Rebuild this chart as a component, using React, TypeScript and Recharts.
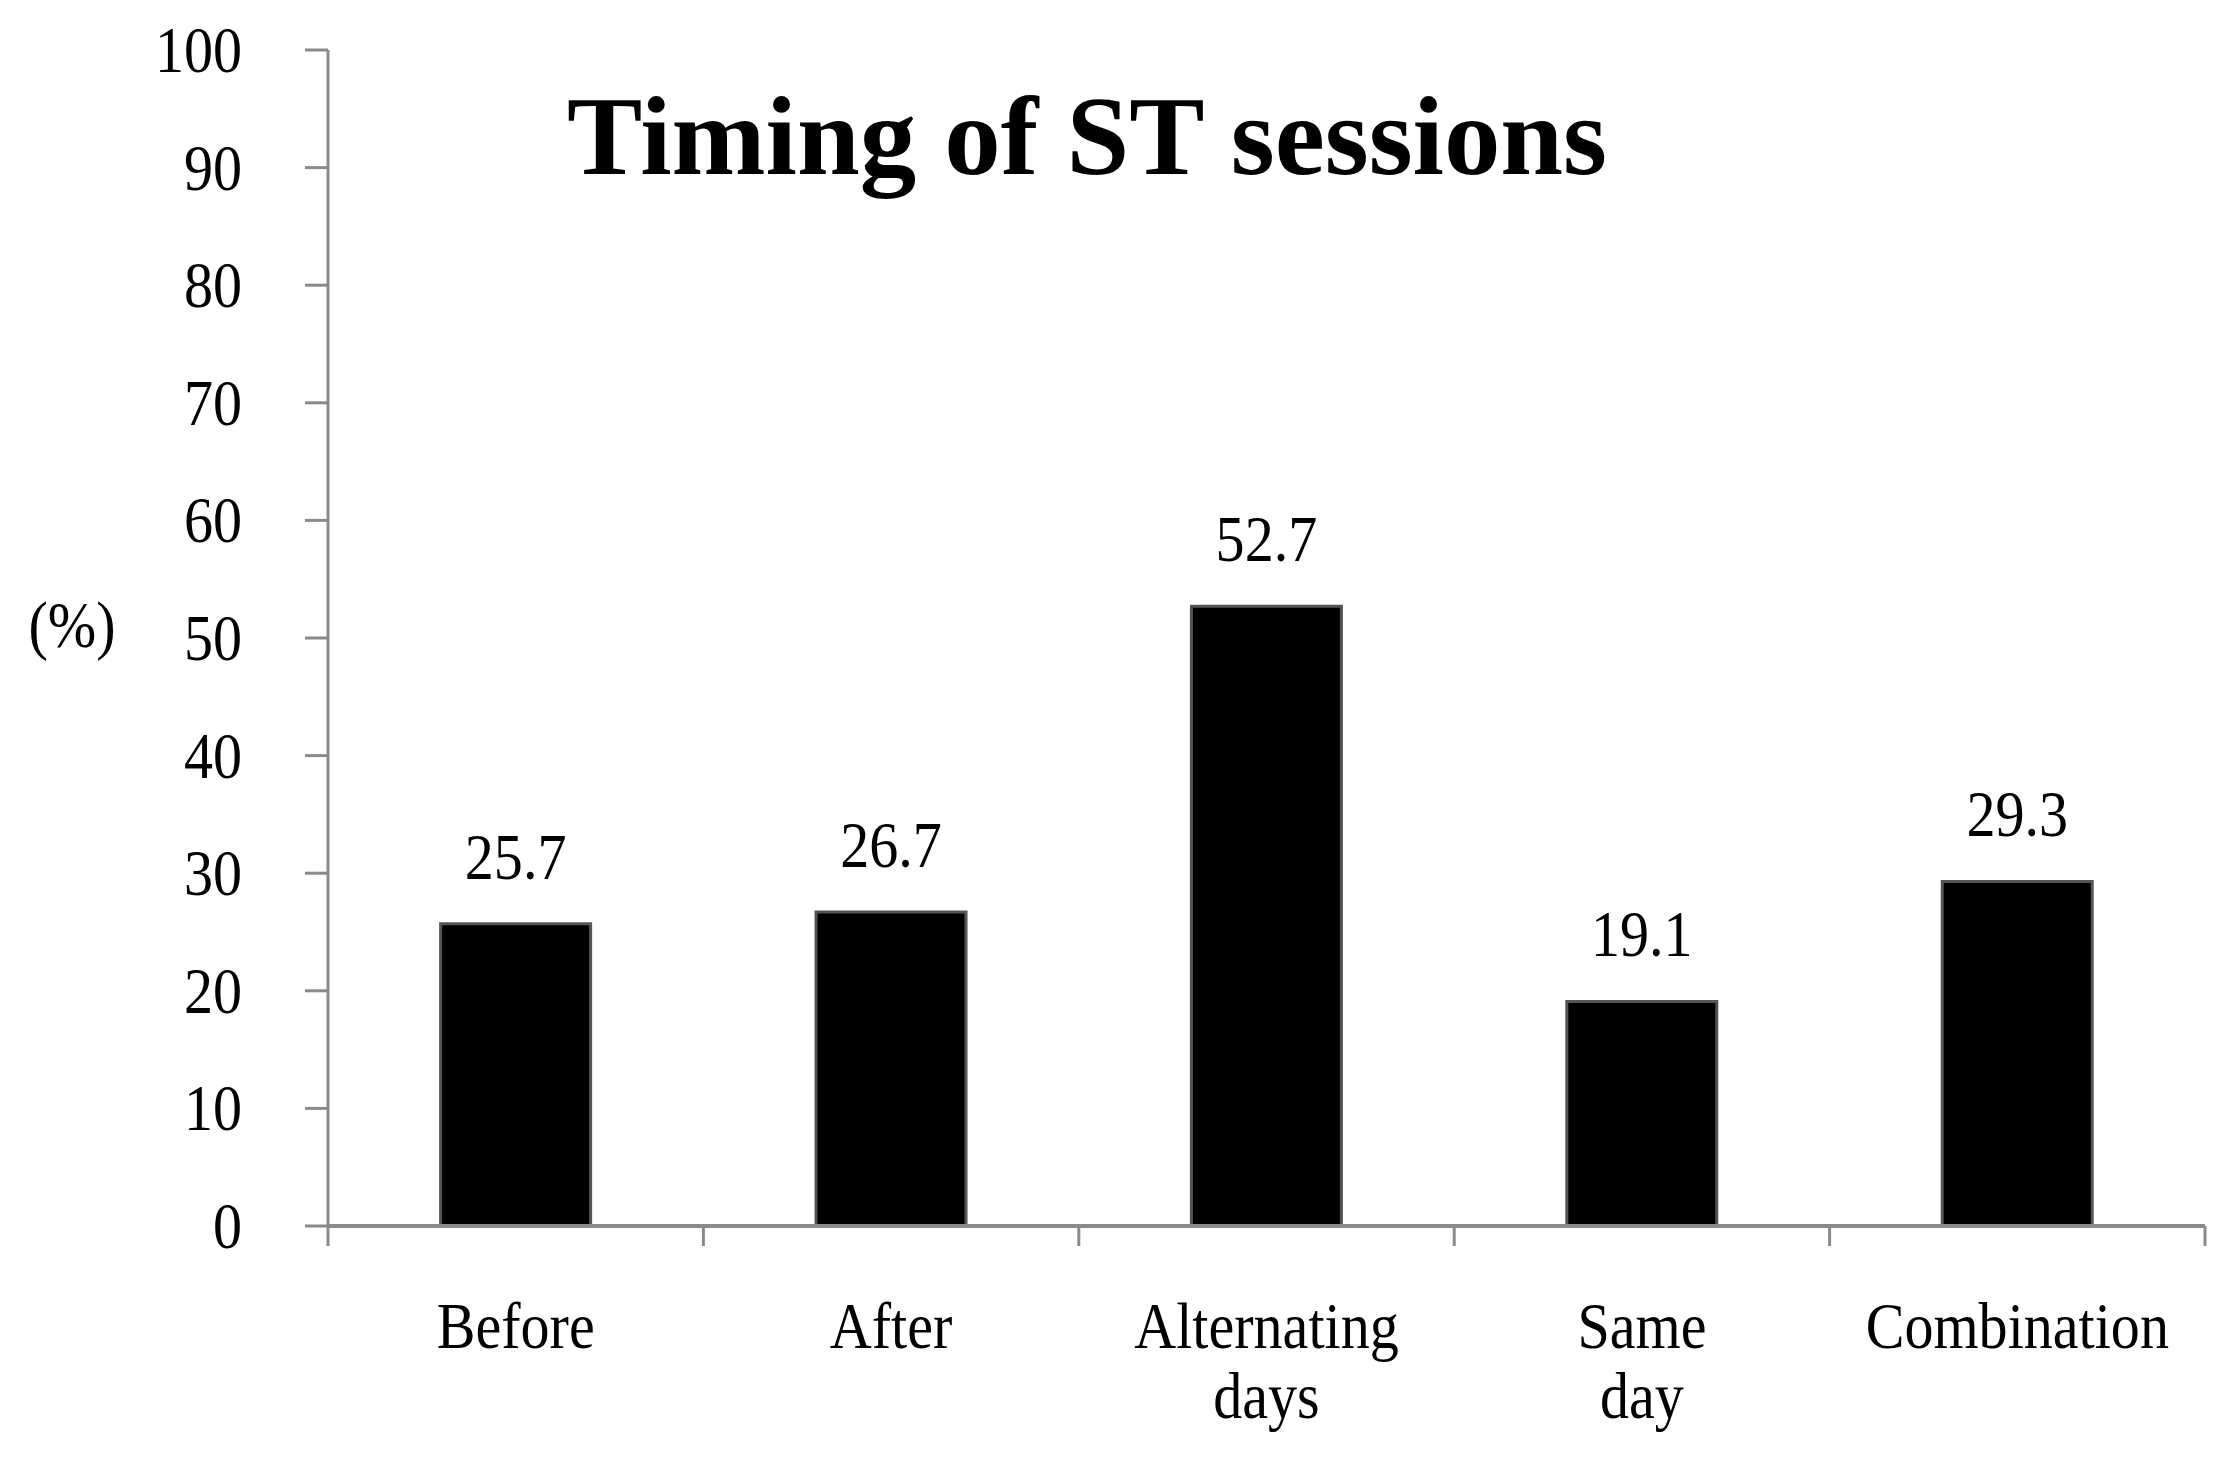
import React from 'react';
import { BarChart, Bar, XAxis, YAxis, LabelList } from 'recharts';

const categories = ['Before', 'After', 'Alternating days', 'Same day', 'Combination'];
const tickLabelLines = [['Before'], ['After'], ['Alternating', 'days'], ['Same', 'day'], ['Combination']];
const values = [25.7, 26.7, 52.7, 19.1, 29.3];
const valueLabels = ['25.7', '26.7', '52.7', '19.1', '29.3'];
const yTicks = [0, 10, 20, 30, 40, 50, 60, 70, 80, 90, 100];
const edgeTicks = [0, 1, 2, 3, 4, 5];
const title = 'Timing of ST sessions';
const yLabel = '(%)';

const data = categories.map((c, i) => ({ category: c, idx: i, value: values[i], label: valueLabels[i] }));

const W = 2218;
const H = 1444;
const AXIS = '#8a8a8a';
const FONT = '"Liberation Serif", "Times New Roman", serif';
const SX = 0.88;

const EmptyTick = () => <g />;

const YTick = (props: any) => {
  const { x, y, payload } = props;
  return (
    <text
      transform={`translate(${x},${y + 22}) scale(${SX},1)`}
      textAnchor="end"
      fontFamily={FONT}
      fontSize={66}
      fill="#000"
    >
      {payload.value}
    </text>
  );
};

const XTick = (props: any) => {
  const { x, y, index } = props;
  const lines = tickLabelLines[index] || [];
  return (
    <g>
      {lines.map((ln: string, i: number) => (
        <text
          key={i}
          transform={`translate(${x},${y + 121 + i * 70}) scale(${SX},1)`}
          textAnchor="middle"
          fontFamily={FONT}
          fontSize={66}
          fill="#000"
        >
          {ln}
        </text>
      ))}
    </g>
  );
};

const ValueLabel = (props: any) => {
  const { x, y, width, value } = props;
  return (
    <text
      transform={`translate(${x + width / 2},${y - 45}) scale(${SX},1)`}
      textAnchor="middle"
      fontFamily={FONT}
      fontSize={66}
      fill="#000"
    >
      {value}
    </text>
  );
};

export default function App() {
  return (
    <div style={{ position: 'relative', width: W, height: H, background: '#fff' }}>
      <BarChart
        width={W}
        height={H}
        data={data}
        margin={{ top: 42, right: 21, bottom: 0, left: 0 }}
        barCategoryGap="30%"
      >
        <XAxis
          xAxisId="axisA"
          type="number"
          dataKey="idx"
          domain={[0, 5]}
          ticks={edgeTicks}
          interval={0}
          allowDataOverflow
          tick={EmptyTick}
          tickSize={20}
          tickLine={{ stroke: AXIS, strokeWidth: 3 }}
          axisLine={{ stroke: AXIS, strokeWidth: 4 }}
          height={1}
        />
        <XAxis
          xAxisId="axisB"
          dataKey="category"
          interval={0}
          axisLine={false}
          tickLine={false}
          tickSize={0}
          tickMargin={0}
          tick={XTick}
          height={225}
        />
        <YAxis
          domain={[0, 100]}
          ticks={yTicks}
          interval={0}
          width={320}
          tickSize={23}
          tickMargin={63}
          axisLine={{ stroke: AXIS, strokeWidth: 3 }}
          tickLine={{ stroke: AXIS, strokeWidth: 3 }}
          tick={YTick}
        />
        <Bar
          xAxisId="axisB"
          dataKey="value"
          fill="#000"
          stroke="#555"
          strokeWidth={3}
          isAnimationActive={false}
        >
          <LabelList dataKey="label" content={ValueLabel} />
        </Bar>
      </BarChart>
      <svg
        width={W}
        height={H}
        style={{ position: 'absolute', left: 0, top: 0, pointerEvents: 'none' }}
      >
        <text
          x={559}
          y={166}
          fontFamily={FONT}
          fontWeight="bold"
          fontSize={112}
          textLength={1040}
          lengthAdjust="spacingAndGlyphs"
          fill="#000"
        >
          {title}
        </text>
        <text
          transform={`translate(64,639) scale(${SX},1)`}
          textAnchor="middle"
          fontFamily={FONT}
          fontSize={66}
          fill="#000"
        >
          {yLabel}
        </text>
      </svg>
    </div>
  );
}
